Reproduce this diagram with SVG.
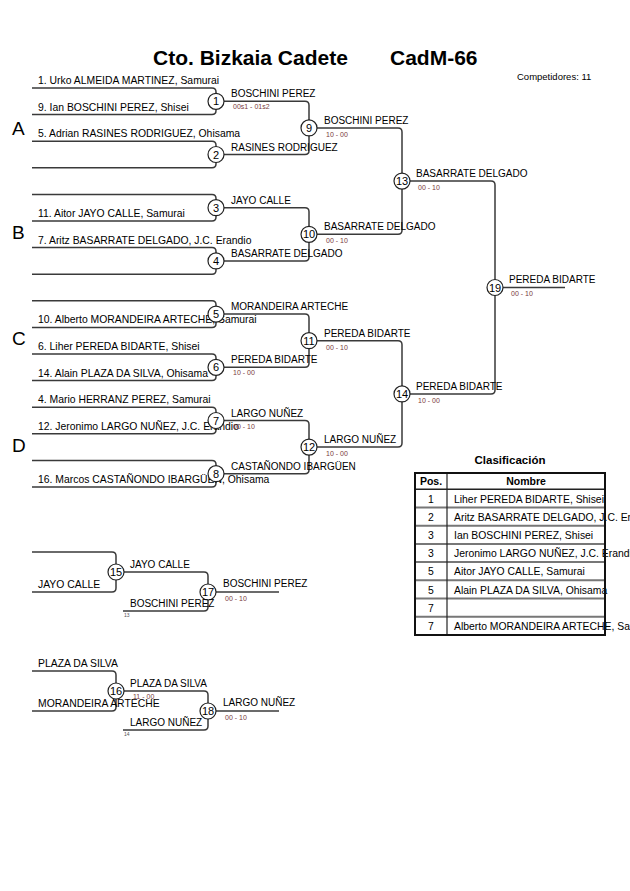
<svg xmlns="http://www.w3.org/2000/svg" width="630" height="891" viewBox="0 0 630 891">
<style>
text{font-family:"Liberation Sans",Arial,sans-serif;fill:#000}
.t{font-size:21px;font-weight:bold}
.n{font-size:10.4px}
.w{font-size:10px}
.s{font-size:7px;fill:#7a3a3a}
.x{font-size:5px;fill:#555}
.blk{font-size:19px}
.num{font-size:11px;text-anchor:middle}
.ln{fill:none;stroke:#3a3a3a;stroke-width:1.5}
.c{fill:#fff;stroke:#222;stroke-width:1.2}
.th{font-size:10.5px;font-weight:bold;text-anchor:middle}
.tp{font-size:10.4px;text-anchor:middle}
.tn{font-size:10.4px}
</style>
<rect width="630" height="891" fill="#fff"/>
<g id="header">
<text class="t" x="153" y="65">Cto. Bizkaia Cadete</text>
<text class="t" x="390" y="65">CadM-66</text>
<text x="517" y="80" style="font-size:9.5px">Competidores: 11</text>
<text class="blk" x="12" y="135">A</text>
<text class="blk" x="12" y="239">B</text>
<text class="blk" x="12" y="345">C</text>
<text class="blk" x="12" y="452">D</text>
</g>
<g id="connectors">
<path class="ln" d="M32,88 H212 Q216,88 216,92 V101.3 M32,114.6 H212 Q216,114.6 216,110.6 V101.3"/>
<path class="ln" d="M32,141.2 H212 Q216,141.2 216,145.2 V154.5 M32,167.8 H212 Q216,167.8 216,163.8 V154.5"/>
<path class="ln" d="M32,194.4 H212 Q216,194.4 216,198.4 V207.7 M32,221 H212 Q216,221 216,217 V207.7"/>
<path class="ln" d="M32,247.6 H212 Q216,247.6 216,251.6 V260.9 M32,274.2 H212 Q216,274.2 216,270.2 V260.9"/>
<path class="ln" d="M32,300.8 H212 Q216,300.8 216,304.8 V314.1 M32,327.4 H212 Q216,327.4 216,323.4 V314.1"/>
<path class="ln" d="M32,354 H212 Q216,354 216,358 V367.3 M32,380.6 H212 Q216,380.6 216,376.6 V367.3"/>
<path class="ln" d="M32,407.2 H212 Q216,407.2 216,411.2 V420.5 M32,433.8 H212 Q216,433.8 216,429.8 V420.5"/>
<path class="ln" d="M32,460.4 H212 Q216,460.4 216,464.4 V473.7 M32,487 H212 Q216,487 216,483 V473.7"/>
<path class="ln" d="M224,101.3 H305 Q309,101.3 309,105.3 V127.9 M224,154.5 H305 Q309,154.5 309,150.5 V127.9"/>
<path class="ln" d="M224,207.7 H305 Q309,207.7 309,211.7 V234.3 M224,260.9 H305 Q309,260.9 309,256.9 V234.3"/>
<path class="ln" d="M224,314.1 H305 Q309,314.1 309,318.1 V340.7 M224,367.3 H305 Q309,367.3 309,363.3 V340.7"/>
<path class="ln" d="M224,420.5 H305 Q309,420.5 309,424.5 V447.1 M224,473.7 H305 Q309,473.7 309,469.7 V447.1"/>
<path class="ln" d="M317,127.9 H398 Q402,127.9 402,131.9 V181.1 M317,234.3 H398 Q402,234.3 402,230.3 V181.1"/>
<path class="ln" d="M317,340.7 H398 Q402,340.7 402,344.7 V393.9 M317,447.1 H398 Q402,447.1 402,443.1 V393.9"/>
<path class="ln" d="M410,181.1 H491 Q495,181.1 495,185.1 V287.5 M410,393.9 H491 Q495,393.9 495,389.9 V287.5"/>
<path class="ln" d="M503,287.5 H565"/>
<path class="ln" d="M32,552 H112 Q116,552 116,556 V572 M32,592 H112 Q116,592 116,588 V572"/>
<path class="ln" d="M124,572 H204 Q208,572 208,576 V592 M123,611 H204 Q208,611 208,607 V592"/>
<path class="ln" d="M216,592 H279"/>
<path class="ln" d="M32,671 H112 Q116,671 116,675 V691 M32,711 H112 Q116,711 116,707 V691"/>
<path class="ln" d="M124,691 H204 Q208,691 208,695 V711 M123,730 H204 Q208,730 208,726 V711"/>
<path class="ln" d="M216,711 H279"/>
</g>
<g id="entrants">
<text class="n" x="38" y="84">1. Urko ALMEIDA MARTINEZ, Samurai</text>
<text class="n" x="38" y="110.6">9. Ian BOSCHINI PEREZ, Shisei</text>
<text class="n" x="38" y="137.2">5. Adrian RASINES RODRIGUEZ, Ohisama</text>
<text class="n" x="38" y="217">11. Aitor JAYO CALLE, Samurai</text>
<text class="n" x="38" y="243.6">7. Aritz BASARRATE DELGADO, J.C. Erandio</text>
<text class="n" x="38" y="323.4">10. Alberto MORANDEIRA ARTECHE, Samurai</text>
<text class="n" x="38" y="350">6. Liher PEREDA BIDARTE, Shisei</text>
<text class="n" x="38" y="376.6">14. Alain PLAZA DA SILVA, Ohisama</text>
<text class="n" x="38" y="403.2">4. Mario HERRANZ PEREZ, Samurai</text>
<text class="n" x="38" y="429.8">12. Jeronimo LARGO NUÑEZ, J.C. Erandio</text>
<text class="n" x="38" y="483">16. Marcos CASTAÑONDO IBARGÜEN, Ohisama</text>
</g>
<g id="m1"><circle class="c" cx="216" cy="101.3" r="8"/><text class="num" x="216" y="105.3">1</text><text class="w" x="231" y="97.3">BOSCHINI PEREZ</text><text class="s" x="233" y="109.3">00s1 - 01s2</text></g>
<g id="m2"><circle class="c" cx="216" cy="154.5" r="8"/><text class="num" x="216" y="158.5">2</text><text class="w" x="231" y="150.5">RASINES RODRIGUEZ</text></g>
<g id="m3"><circle class="c" cx="216" cy="207.7" r="8"/><text class="num" x="216" y="211.7">3</text><text class="w" x="231" y="203.7">JAYO CALLE</text></g>
<g id="m4"><circle class="c" cx="216" cy="260.9" r="8"/><text class="num" x="216" y="264.9">4</text><text class="w" x="231" y="256.9">BASARRATE DELGADO</text></g>
<g id="m5"><circle class="c" cx="216" cy="314.1" r="8"/><text class="num" x="216" y="318.1">5</text><text class="w" x="231" y="310.1">MORANDEIRA ARTECHE</text></g>
<g id="m6"><circle class="c" cx="216" cy="367.3" r="8"/><text class="num" x="216" y="371.3">6</text><text class="w" x="231" y="363.3">PEREDA BIDARTE</text><text class="s" x="233" y="375.3">10 - 00</text></g>
<g id="m7"><circle class="c" cx="216" cy="420.5" r="8"/><text class="num" x="216" y="424.5">7</text><text class="w" x="231" y="416.5">LARGO NUÑEZ</text><text class="s" x="233" y="428.5">00 - 10</text></g>
<g id="m8"><circle class="c" cx="216" cy="473.7" r="8"/><text class="num" x="216" y="477.7">8</text><text class="w" x="231" y="469.7">CASTAÑONDO IBARGÜEN</text></g>
<g id="m9"><circle class="c" cx="309" cy="127.9" r="8"/><text class="num" x="309" y="131.9">9</text><text class="w" x="324" y="123.9">BOSCHINI PEREZ</text><text class="s" x="326" y="136.9">10 - 00</text></g>
<g id="m10"><circle class="c" cx="309" cy="234.3" r="8"/><text class="num" x="309" y="238.3">10</text><text class="w" x="324" y="230.3">BASARRATE DELGADO</text><text class="s" x="326" y="243.3">00 - 10</text></g>
<g id="m11"><circle class="c" cx="309" cy="340.7" r="8"/><text class="num" x="309" y="344.7">11</text><text class="w" x="324" y="336.7">PEREDA BIDARTE</text><text class="s" x="326" y="349.7">00 - 10</text></g>
<g id="m12"><circle class="c" cx="309" cy="447.1" r="8"/><text class="num" x="309" y="451.1">12</text><text class="w" x="324" y="443.1">LARGO NUÑEZ</text><text class="s" x="326" y="456.1">10 - 00</text></g>
<g id="m13"><circle class="c" cx="402" cy="181.1" r="8"/><text class="num" x="402" y="185.1">13</text><text class="w" x="416" y="177.1">BASARRATE DELGADO</text><text class="s" x="418" y="190.1">00 - 10</text></g>
<g id="m14"><circle class="c" cx="402" cy="393.9" r="8"/><text class="num" x="402" y="397.9">14</text><text class="w" x="416" y="389.9">PEREDA BIDARTE</text><text class="s" x="418" y="402.9">10 - 00</text></g>
<g id="m19"><circle class="c" cx="495" cy="287.5" r="8"/><text class="num" x="495" y="291.5">19</text><text class="w" x="509" y="282.5">PEREDA BIDARTE</text><text class="s" x="511" y="296">00 - 10</text></g>
<g id="m15"><circle class="c" cx="116" cy="572" r="8"/><text class="num" x="116" y="576">15</text><text class="n" x="38" y="588">JAYO CALLE</text><text class="w" x="130" y="568">JAYO CALLE</text></g>
<g id="m17"><circle class="c" cx="208" cy="592" r="8"/><text class="num" x="208" y="596">17</text><text class="w" x="130" y="607">BOSCHINI PEREZ</text><text class="x" x="124" y="617">13</text><text class="w" x="223" y="587">BOSCHINI PEREZ</text><text class="s" x="225" y="601">00 - 10</text></g>
<g id="m16"><circle class="c" cx="116" cy="691" r="8"/><text class="num" x="116" y="695">16</text><text class="n" x="38" y="667">PLAZA DA SILVA</text><text class="n" x="38" y="707">MORANDEIRA ARTECHE</text><text class="w" x="130" y="687">PLAZA DA SILVA</text><text class="s" x="133" y="699">11 - 00</text></g>
<g id="m18"><circle class="c" cx="208" cy="711" r="8"/><text class="num" x="208" y="715">18</text><text class="w" x="130" y="726">LARGO NUÑEZ</text><text class="x" x="124" y="736">14</text><text class="w" x="223" y="706">LARGO NUÑEZ</text><text class="s" x="225" y="720">00 - 10</text></g>
<g id="clasificacion">
<text x="510" y="464" style="font-size:11.5px;font-weight:bold;text-anchor:middle">Clasificación</text>
<text class="th" x="431" y="485">Pos.</text>
<text class="th" x="526" y="485">Nombre</text>
<g class="rows">
<text class="tp" x="431" y="502.5">1</text><text class="tn" x="454" y="502.5">Liher PEREDA BIDARTE, Shisei</text>
<text class="tp" x="431" y="520.7">2</text><text class="tn" x="454" y="520.7">Aritz BASARRATE DELGADO, J.C. Erandio</text>
<text class="tp" x="431" y="538.9">3</text><text class="tn" x="454" y="538.9">Ian BOSCHINI PEREZ, Shisei</text>
<text class="tp" x="431" y="557.1">3</text><text class="tn" x="454" y="557.1">Jeronimo LARGO NUÑEZ, J.C. Erandio</text>
<text class="tp" x="431" y="575.3">5</text><text class="tn" x="454" y="575.3">Aitor JAYO CALLE, Samurai</text>
<text class="tp" x="431" y="593.5">5</text><text class="tn" x="454" y="593.5">Alain PLAZA DA SILVA, Ohisama</text>
<text class="tp" x="431" y="611.7">7</text>
<text class="tp" x="431" y="629.9">7</text><text class="tn" x="454" y="629.9">Alberto MORANDEIRA ARTECHE, Samurai</text>
</g>
<path d="M416,507.5 H604 M416,525.7 H604 M416,543.9 H604 M416,562.1 H604 M416,580.3 H604 M416,598.5 H604 M416,616.7 H604" stroke="#777" stroke-width="2" fill="none"/>
<path d="M416,489.3 H604" stroke="#222" stroke-width="1.5" fill="none"/>
<path d="M447,473.5 V634" stroke="#222" stroke-width="1.2" fill="none"/>
<rect x="415" y="473" width="190" height="162" fill="none" stroke="#111" stroke-width="2"/>
</g>
</svg>
